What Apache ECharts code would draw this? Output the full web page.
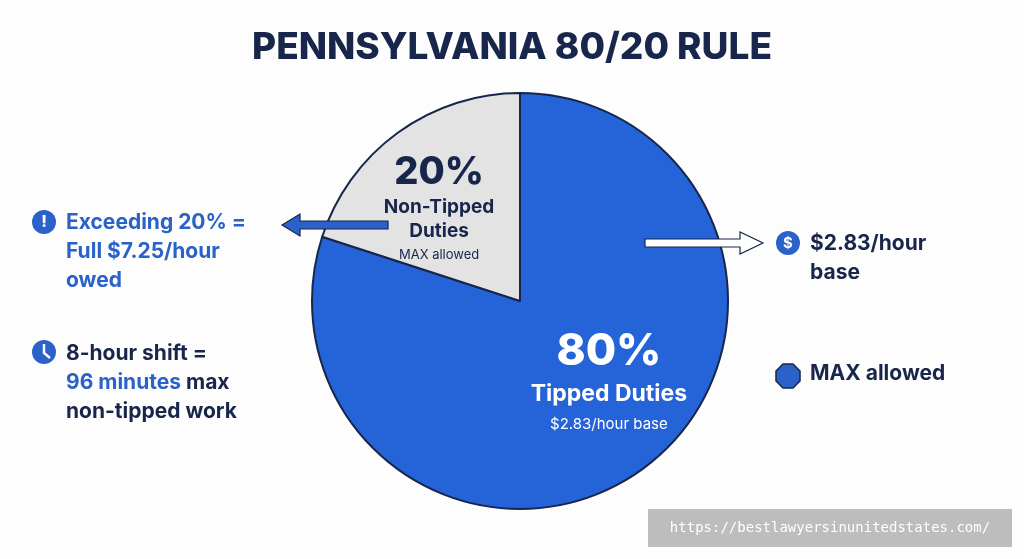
<!DOCTYPE html>
<html><head><meta charset="utf-8">
<script src="https://cdn.jsdelivr.net/npm/echarts@6/dist/echarts.min.js"></script>
<style>html,body{margin:0;background:#fff}#c{width:1024px;height:559px}</style>
</head><body><div id="c"></div>
<script>
const categories = ['Tipped Duties', 'Non-Tipped Duties'];
const values = [80, 20];
const subtexts = ['$2.83/hour base', 'MAX allowed'];
const colors = ['#2563d9', '#e3e3e3'];

const F = 'Inter, "Open Sans", sans-serif';
const navy = '#17264a', blue = '#2a62c9';
const chart = echarts.init(document.getElementById('c'));
chart.setOption({
  backgroundColor: '#fdfdfd',
  title: { text: 'PENNSYLVANIA 80/20 RULE', left: 'center', top: 24,
    textStyle: { fontFamily: F, fontSize: 37, fontWeight: 800, color: navy } },
  series: [{
    type: 'pie', center: [520, 301], radius: 208, startAngle: 90, clockwise: true,
    silent: true, z: 1,
    data: categories.map((c, i) => ({ name: c, value: values[i],
      itemStyle: { color: colors[i] },
      label: i === 0 ? {
        position: 'inside', offset: [26, -6],
        formatter: p => `{p|${p.value}%}\n{n|${p.name}}\n{s|${subtexts[0]}}`,
        rich: { p: { fontFamily: F, fontSize: 44, fontWeight: 800, color: '#fff', lineHeight: 52 },
                n: { fontFamily: F, fontSize: 23, fontWeight: 700, color: '#fff', lineHeight: 34 },
                s: { fontFamily: F, fontSize: 15, color: '#fff', lineHeight: 26 } }
      } : {
        position: 'inside', offset: [-18, -6],
        formatter: p => `{p|${p.value}%}\n{n|Non-Tipped}\n{n|Duties}\n{s|${subtexts[1]}}`,
        rich: { p: { fontFamily: F, fontSize: 38, fontWeight: 800, color: navy, lineHeight: 46 },
                n: { fontFamily: F, fontSize: 19, fontWeight: 700, color: navy, lineHeight: 24 },
                s: { fontFamily: F, fontSize: 13, color: navy, lineHeight: 24 } }
      }
    })),
    itemStyle: { borderColor: navy, borderWidth: 2 },
    labelLine: { show: false }
  }],
  graphic: [
    { type: 'polygon', z: 100, shape: { points: [[388,221],[300,221],[300,214],[282,225],[300,236],[300,229],[388,229]] },
      style: { fill: blue, stroke: navy, lineWidth: 1.2 } },
    { type: 'polygon', z: 100, shape: { points: [[645,239],[740,239],[740,232],[763,243],[740,254],[740,247],[645,247]] },
      style: { fill: '#fff', stroke: navy, lineWidth: 1.2 } },
    { type: 'circle', shape: { cx: 44, cy: 222, r: 12 }, style: { fill: blue } },
    { type: 'text', style: { x: 44, y: 222, text: '!', fill: '#fff', font: `800 16px ${F}`, align: 'center', verticalAlign: 'middle' } },
    { type: 'circle', shape: { cx: 44, cy: 352, r: 12 }, style: { fill: blue } },
    { type: 'polyline', shape: { points: [[44,344],[44,353],[50,358]] }, style: { stroke: '#fff', lineWidth: 2.5, fill: null } },
    { type: 'circle', shape: { cx: 788, cy: 243, r: 12 }, style: { fill: blue } },
    { type: 'text', style: { x: 788, y: 243, text: '$', fill: '#fff', font: `700 15px ${F}`, align: 'center', verticalAlign: 'middle' } },
    { type: 'polygon', shape: { points: [[783,364],[793,364],[800,371],[800,381],[793,388],[783,388],[776,381],[776,371]] },
      style: { fill: blue, stroke: navy, lineWidth: 1.5 } },
    { type: 'text', style: { x: 66, y: 208, text: 'Exceeding 20% =\nFull $7.25/hour\nowed', fill: blue, font: `700 21px ${F}`, lineHeight: 29 } },
    { type: 'text', style: { x: 66, y: 339, rich: {
        d: { fill: navy, font: `700 21px ${F}`, lineHeight: 29 },
        b: { fill: blue, font: `700 21px ${F}`, lineHeight: 29 } },
        text: '{d|8-hour shift =}\n{b|96 minutes}{d| max}\n{d|non-tipped work}' } },
    { type: 'text', style: { x: 810, y: 229, text: '$2.83/hour\nbase', fill: navy, font: `700 21px ${F}`, lineHeight: 29 } },
    { type: 'text', style: { x: 810, y: 363, text: 'MAX allowed', fill: navy, font: `700 21px ${F}` } },
    { type: 'rect', shape: { x: 648, y: 509, width: 364, height: 38 }, style: { fill: '#bdbdbd' } },
    { type: 'text', style: { x: 830, y: 528, text: 'https://bestlawyersinunitedstates.com/', fill: '#fff', font: '14px "DejaVu Sans Mono", monospace', align: 'center', verticalAlign: 'middle' } }
  ]
});
</script></body></html>
